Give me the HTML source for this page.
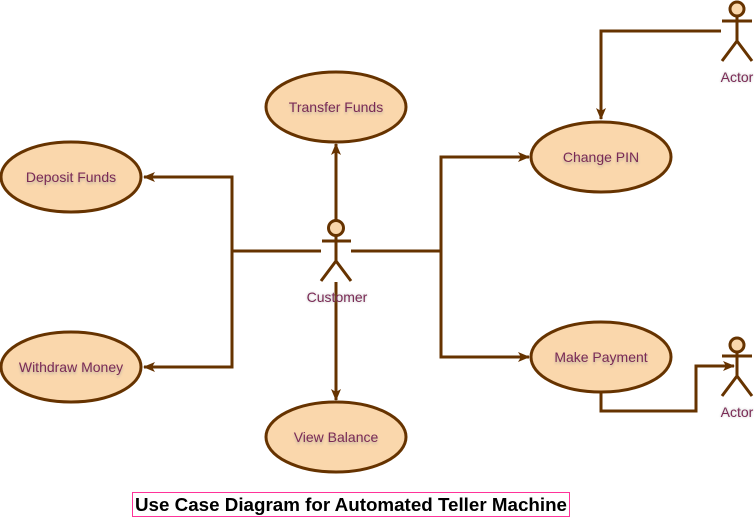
<!DOCTYPE html>
<html><head><meta charset="utf-8"><style>
html,body{margin:0;padding:0;background:#fff;width:754px;height:518px;overflow:hidden}
svg text{font-family:"Liberation Sans",sans-serif}
</style></head><body>
<svg width="754" height="518" viewBox="0 0 754 518" xmlns="http://www.w3.org/2000/svg">
<defs>
<marker id="a" viewBox="0 0 12 10" refX="11" refY="5" markerWidth="12" markerHeight="10" markerUnits="userSpaceOnUse" orient="auto">
<path d="M0,0 L12,5 L0,10 L3,5 Z" fill="#663300"/>
</marker>
<filter id="s" x="-20%" y="-50%" width="140%" height="200%"><feGaussianBlur stdDeviation="1.2"/></filter>
</defs>
<g fill="none" stroke="#663300" stroke-width="3">
<path d="M321,251 H232 V177 H144" marker-end="url(#a)"/>
<path d="M232,251 V367 H144" marker-end="url(#a)"/>
<path d="M351,251 H441 V157 H529" marker-end="url(#a)"/>
<path d="M441,251 V357 H529" marker-end="url(#a)"/>
<path d="M336,220 V144" marker-end="url(#a)"/>
<path d="M336,282 V400" marker-end="url(#a)"/>
<path d="M721,31 H601 V119" marker-end="url(#a)"/>
<path d="M601,391 V411 H696 V366 H734" marker-end="url(#a)"/>
</g>
<g fill="#fad7ac" stroke="#663300" stroke-width="3">
<ellipse cx="336" cy="107" rx="70" ry="35"/>
<ellipse cx="71" cy="177" rx="70" ry="35"/>
<ellipse cx="71" cy="367" rx="70" ry="35"/>
<ellipse cx="336" cy="437" rx="70" ry="35"/>
<ellipse cx="601" cy="157" rx="70" ry="35"/>
<ellipse cx="601" cy="357" rx="70" ry="35"/>
</g>
<g stroke="#663300" stroke-width="3" fill="none">
<circle cx="336" cy="228" r="7.5" fill="#fad7ac"/>
<path d="M336,236 V261 M322,241 H351 M321,281 L336,261 L351,281"/>
<circle cx="737" cy="9" r="7" fill="#fad7ac"/>
<path d="M737,16 V41 M722,21 H752 M722,61 L737,41 L752,61"/>
<circle cx="737" cy="345" r="7" fill="#fad7ac"/>
<path d="M737,352 V376 M722,356 H752 M722,396 L737,376 L752,396"/>
</g>
<g font-size="14" text-anchor="middle">
<g fill="#999" filter="url(#s)" opacity="0.6">
<text x="336" y="114">Transfer Funds</text><text x="71" y="184">Deposit Funds</text>
<text x="71" y="374">Withdraw Money</text><text x="336" y="444">View Balance</text>
<text x="601" y="164">Change PIN</text><text x="601" y="364">Make Payment</text>
<text x="337" y="302">Customer</text><text x="737" y="82">Actor</text><text x="737" y="417">Actor</text>
</g>
<g fill="#7a2a55">
<text x="336" y="112">Transfer Funds</text><text x="71" y="182">Deposit Funds</text>
<text x="71" y="372">Withdraw Money</text><text x="336" y="442">View Balance</text>
<text x="601" y="162">Change PIN</text><text x="601" y="362">Make Payment</text>
<text x="337" y="302">Customer</text><text x="737" y="82">Actor</text><text x="737" y="417">Actor</text>
</g>
</g>
<rect x="132.5" y="492.5" width="437" height="24" fill="none" stroke="#ff3399" stroke-width="1"/>
<text x="135" y="511" font-size="18" font-weight="bold" textLength="432" lengthAdjust="spacingAndGlyphs" fill="#000">Use Case Diagram for Automated Teller Machine</text>
</svg>
</body></html>
